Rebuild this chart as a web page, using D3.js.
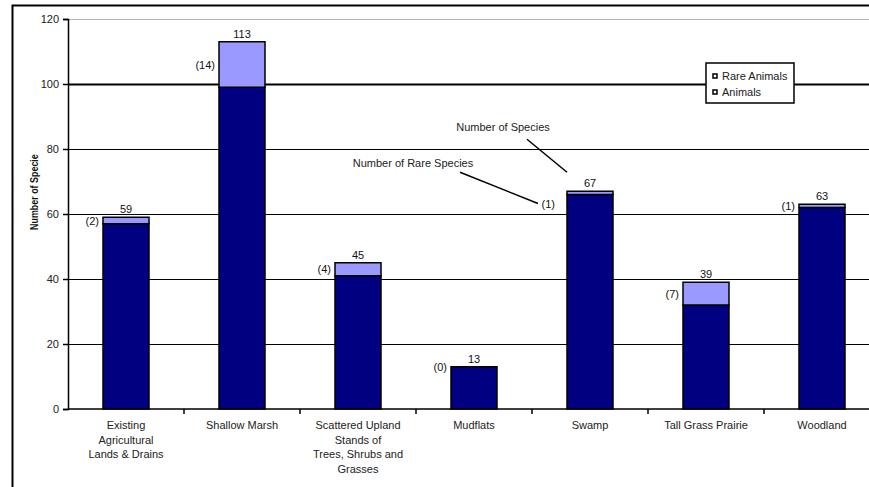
<!DOCTYPE html>
<html>
<head>
<meta charset="utf-8">
<script src="https://cdn.jsdelivr.net/npm/d3@7"></script>
<style>
  html, body { margin: 0; padding: 0; background: #fff; overflow: hidden; }
  svg { display: block; font-family: "Liberation Sans", Arial, sans-serif; }
</style>
</head>
<body>
<svg id="chart" width="869" height="487"></svg>
<script>
// Habitat categories (multi-line axis labels)
const categories = [
  ["Existing", "Agricultural", "Lands & Drains"],
  ["Shallow Marsh"],
  ["Scattered Upland", "Stands of", "Trees, Shrubs and", "Grasses"],
  ["Mudflats"],
  ["Swamp"],
  ["Tall Grass Prairie"],
  ["Woodland"]
];
const categoryKeys = categories.map(c => c.join(" "));

// Species counts per habitat
const totalSpecies = [59, 113, 45, 13, 67, 39, 63];
const rareAnimals  = [2, 14, 4, 0, 1, 7, 1];
const animals      = totalSpecies.map((t, i) => t - rareAnimals[i]);

const yTicks = [0, 20, 40, 60, 80, 100, 120];
const seriesNames = ["Rare Animals", "Animals"];
const colors = { "Animals": "#000080", "Rare Animals": "#9999ff" };

const svg = d3.select("#chart");

// Plot frame
const plot = { left: 68, right: 880, top: 19, bottom: 409 };

const x = d3.scaleBand()
  .domain(categoryKeys)
  .range([plot.left, plot.right])
  .paddingInner(0.6034)
  .paddingOuter(0.3017);

const y = d3.scaleLinear().domain([0, 120]).range([plot.bottom, plot.top]);

// Outer chart border
svg.append("rect")
  .attr("x", 12.5).attr("y", 5.5)
  .attr("width", 950).attr("height", 600)
  .attr("fill", "none").attr("stroke", "#000").attr("stroke-width", 2);

// Horizontal gridlines
svg.append("g").selectAll("line")
  .data(yTicks.filter(d => d > 0))
  .join("line")
  .attr("x1", plot.left).attr("x2", plot.right)
  .attr("y1", d => Math.round(y(d)) + 0.5).attr("y2", d => Math.round(y(d)) + 0.5)
  .attr("stroke", d => d === 120 ? "#b4b4b4" : "#000")
  .attr("stroke-width", d => d === 100 ? 2 : 1);

// Stacked bars
const stackData = categoryKeys.map((k, i) => ({ key: k, "Animals": animals[i], "Rare Animals": rareAnimals[i] }));
const stacked = d3.stack().keys(["Animals", "Rare Animals"])(stackData);

svg.append("g").selectAll("g")
  .data(stacked)
  .join("g")
  .attr("fill", s => colors[s.key])
  .selectAll("rect")
  .data(s => s)
  .join("rect")
  .attr("x", d => x(d.data.key))
  .attr("width", x.bandwidth())
  .attr("y", d => y(d[1]))
  .attr("height", d => y(d[0]) - y(d[1]))
  .attr("stroke", "#000")
  .attr("stroke-width", 1.5);

// Y axis
const yAxis = d3.axisLeft(y).tickValues(yTicks).tickSize(5).tickPadding(4);
const gy = svg.append("g").attr("transform", `translate(${plot.left},0)`).call(yAxis);
gy.select(".domain").attr("stroke-width", 1.5);
gy.selectAll(".tick line").attr("stroke-width", 1.5);
gy.selectAll("text").attr("font-size", 11).attr("fill", "#222")
  .attr("font-family", "Liberation Sans, Arial, sans-serif");

// X axis with ticks on category boundaries
const gx = svg.append("g").attr("transform", `translate(0,${plot.bottom})`);
gx.append("line")
  .attr("x1", plot.left).attr("x2", plot.right)
  .attr("y1", 0).attr("y2", 0)
  .attr("stroke", "#000").attr("stroke-width", 1.5);
gx.selectAll("line.tick")
  .data(categoryKeys.slice(1))
  .join("line")
  .attr("class", "tick")
  .attr("x1", d => x(d) - x.step() * x.paddingInner() / 2)
  .attr("x2", d => x(d) - x.step() * x.paddingInner() / 2)
  .attr("y1", 0).attr("y2", 5)
  .attr("stroke", "#000").attr("stroke-width", 1.5);

// Category labels
const catLabels = svg.append("g").selectAll("text")
  .data(categories)
  .join("text")
  .attr("x", (d, i) => x(categoryKeys[i]) + x.bandwidth() / 2)
  .attr("y", plot.bottom + 20)
  .attr("text-anchor", "middle")
  .attr("font-size", 11)
  .attr("fill", "#222");
catLabels.selectAll("tspan")
  .data(d => d)
  .join("tspan")
  .attr("x", function () { return d3.select(this.parentNode).attr("x"); })
  .attr("dy", (d, i) => i === 0 ? 0 : 14.5)
  .text(d => d);

// Total species labels above bars
svg.append("g").selectAll("text")
  .data(totalSpecies)
  .join("text")
  .attr("x", (d, i) => x(categoryKeys[i]) + x.bandwidth() / 2)
  .attr("y", d => y(d) - 4)
  .attr("text-anchor", "middle")
  .attr("font-size", 11)
  .attr("fill", "#111")
  .text(d => d);

// Rare species counts beside the rare segment
const rareLabels = svg.append("g").selectAll("text")
  .data(rareAnimals)
  .join("text")
  .attr("x", (d, i) => x(categoryKeys[i]) - 4)
  .attr("y", (d, i) => (y(totalSpecies[i]) + y(animals[i])) / 2 + 4)
  .attr("text-anchor", "end")
  .attr("font-size", 11)
  .attr("fill", "#111")
  .text(d => `(${d})`);

// Y axis title (clipped inside the chart area)
const titleClip = svg.append("clipPath").attr("id", "ytitle-clip");
titleClip.append("rect").attr("x", 20).attr("y", 154).attr("width", 30).attr("height", 90);
svg.append("g")
  .attr("clip-path", "url(#ytitle-clip)")
  .append("text")
  .attr("transform", "translate(38,230) rotate(-90) scale(0.85,1)")
  .attr("font-size", 10.5)
  .attr("font-weight", "bold")
  .attr("fill", "#111")
  .text("Number of Species");

// Callouts on the Swamp bar
const swampIdx = 4;
const swampLeft = x(categoryKeys[swampIdx]);
const swampTop = y(totalSpecies[swampIdx]);
const rareY = y(animals[swampIdx]) + 9;
rareLabels.filter((d, i) => i === swampIdx)
  .attr("x", swampLeft - 12)
  .attr("y", rareY + 4);
const callouts = svg.append("g").attr("font-size", 11).attr("fill", "#222");
callouts.append("text").attr("x", swampLeft - 64).attr("y", swampTop - 60)
  .attr("text-anchor", "middle").text("Number of Species");
callouts.append("line")
  .attr("x1", swampLeft - 40).attr("y1", swampTop - 52)
  .attr("x2", swampLeft).attr("y2", swampTop - 19)
  .attr("stroke", "#000").attr("stroke-width", 1.5);
callouts.append("text").attr("x", swampLeft - 154).attr("y", swampTop - 24)
  .attr("text-anchor", "middle").text("Number of Rare Species");
callouts.append("line")
  .attr("x1", swampLeft - 107).attr("y1", swampTop - 19)
  .attr("x2", swampLeft - 29).attr("y2", rareY)
  .attr("stroke", "#000").attr("stroke-width", 1.5);

// Legend
const legend = svg.append("g").attr("transform", "translate(706,63)");
legend.append("rect")
  .attr("width", 88).attr("height", 40)
  .attr("fill", "#fff").attr("stroke", "#000").attr("stroke-width", 1.5);
const items = legend.selectAll("g.item")
  .data(seriesNames)
  .join("g")
  .attr("class", "item")
  .attr("transform", (d, i) => `translate(7,${15 + i * 16})`);
items.append("rect")
  .attr("x", 0).attr("y", -4).attr("width", 4).attr("height", 4)
  .attr("fill", "#fff").attr("stroke", "#000").attr("stroke-width", 1.5);
items.append("text")
  .attr("x", 9).attr("y", 2)
  .attr("font-size", 11).attr("fill", "#222")
  .text(d => d);
</script>
</body>
</html>
